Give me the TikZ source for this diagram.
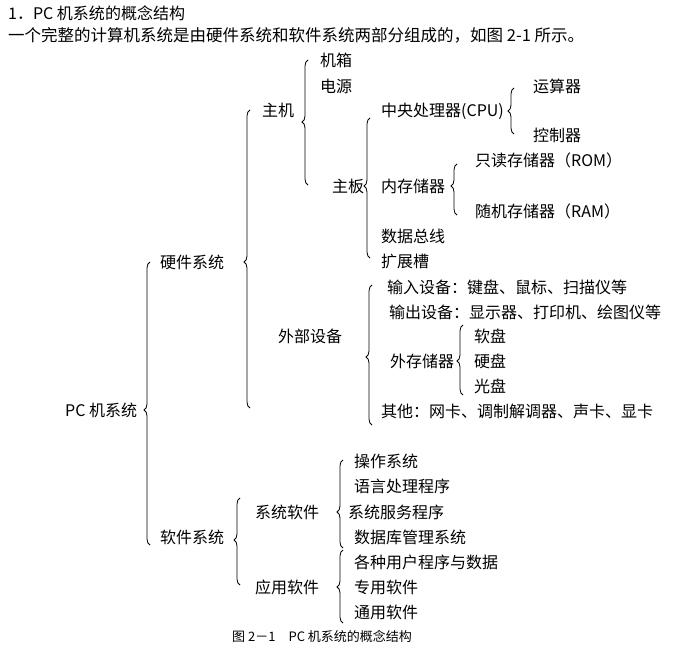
\documentclass[tikz,border=0pt]{standalone}
\usepackage{fontspec}
\setmainfont{Noto Sans CJK SC}
\usetikzlibrary{decorations.pathreplacing}
\tikzset{t/.style={anchor=west,inner sep=0pt,font=\fontsize{16}{16}\selectfont},
br/.style={decorate,decoration={brace,amplitude=6pt,aspect=#1},line width=0.8pt}}
\newcommand{\brc}[4]{\draw[br={(#3-#4)/(#3-#2)}] (#1,#3) -- (#1,#2);}
\begin{document}
\begin{tikzpicture}[x=1pt,y=-1pt]
\useasboundingbox (0,0) rectangle (695,650);
\node[t] (h1) at (8,13) {1．PC 机系统的概念结构};
\node[t,font=\fontsize{16.5}{16}\selectfont] (h2) at (8,35) {一个完整的计算机系统是由硬件系统和软件系统两部分组成的，如图 2-1 所示。};
\node[t] (pc) at (65,410) {PC 机系统};
\brc{150}{262}{545}{410}
\node[t] (hw) at (160,262) {硬件系统};
\brc{250}{110}{408}{262}
\node[t] (zj) at (262,110) {主机};
\brc{308}{60}{185}{122}
\node[t] (jx) at (320,60) {机箱};
\node[t] (dy) at (320,86) {电源};
\node[t] (zb) at (332,186) {主板};
\brc{370}{118}{258}{186}
\node[t] (cpu) at (381,111) {中央处理器(CPU)};
\brc{514}{88}{134}{111}
\node[t] (ys) at (533,86) {运算器};
\node[t] (kz) at (533,135) {控制器};
\node[t] (nc) at (381,186) {内存储器};
\brc{457}{164}{215}{186}
\node[t] (rom) at (475,160) {只读存储器（ROM）};
\node[t] (ram) at (475,211) {随机存储器（RAM）};
\node[t] (zx) at (381,236) {数据总线};
\node[t] (kzc) at (381,261) {扩展槽};
\node[t] (wb) at (278,336) {外部设备};
\brc{372}{285}{425}{357}
\node[t] (in) at (387,287) {输入设备：键盘、鼠标、扫描仪等};
\node[t] (out) at (389,312) {输出设备：显示器、打印机、绘图仪等};
\node[t] (wc) at (390,361) {外存储器};
\brc{463}{325}{395}{361}
\node[t] (rp) at (474,336) {软盘};
\node[t] (yp) at (474,361) {硬盘};
\node[t] (gp) at (474,386) {光盘};
\node[t] (qt) at (381,411) {其他：网卡、调制解调器、声卡、显卡};
\node[t] (sw) at (160,537) {软件系统};
\brc{240}{498}{585}{540}
\node[t] (xt) at (255,512) {系统软件};
\node[t] (yy) at (255,587) {应用软件};
\brc{343}{460}{548}{512}
\brc{343}{550}{623}{587}
\node[t] (s1) at (354,461) {操作系统};
\node[t] (s2) at (354,486) {语言处理程序};
\node[t] (s3) at (348,512) {系统服务程序};
\node[t] (s4) at (354,537) {数据库管理系统};
\node[t] (s5) at (354,562) {各种用户程序与数据};
\node[t] (s6) at (354,587) {专用软件};
\node[t] (s7) at (354,612) {通用软件};
\node[t,font=\fontsize{13}{13}\selectfont] (cap) at (232,636) {图 2－1\quad PC 机系统的概念结构};
\end{tikzpicture}
\end{document}
